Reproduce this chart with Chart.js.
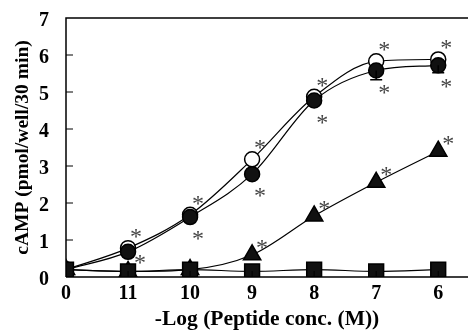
<!DOCTYPE html>
<html>
<head>
<meta charset="utf-8">
<script src="https://cdn.jsdelivr.net/npm/chart.js@4/dist/chart.umd.min.js"></script>
<style>
  html, body { margin: 0; padding: 0; background: #fff; }
  #wrap { width: 468px; height: 333px; }
</style>
</head>
<body>
<div id="wrap"><canvas id="chart" width="468" height="333"></canvas></div>
<script>
// tick labels along x (-log of concentration, 0 = no peptide)
const xLabels = ['0', '11', '10', '9', '8', '7', '6'];

// cAMP values (pmol/well/30 min)
const openCircle   = [0.2, 0.78, 1.68, 3.18, 4.87, 5.83, 5.88];
const filledCircle = [0.2, 0.68, 1.62, 2.78, 4.77, 5.58, 5.72];
const triangle     = [0.2, 0.15, 0.2, 0.6, 1.65, 2.56, 3.4];
const square       = [0.2, 0.15, 0.2, 0.15, 0.2, 0.15, 0.2];

// error bar (lower) for filled circles
const filledErr = [0, 0, 0, 0, 0, 0.25, 0.2];

// which points carry an asterisk
const starOpen   = [false, true, true, true, true, true, true];
const starFilled = [false, true, true, true, true, true, true];
const starTri    = [false, false, false, true, true, true, true];

const toPts = arr => arr.map((v, i) => ({ x: i, y: v }));

const font = 'Liberation Serif';

// draws frame, inward ticks, error bars and asterisks
const extras = {
  id: 'extras',
  afterDatasetsDraw(chart) {
    const { ctx, chartArea: a, scales: { x, y } } = chart;
    ctx.save();
    ctx.strokeStyle = '#000';
    ctx.lineWidth = 1.5;
    ctx.beginPath();
    ctx.moveTo(a.left, a.bottom); ctx.lineTo(chart.width, a.bottom);
    ctx.moveTo(a.left, a.bottom); ctx.lineTo(a.left, a.top);
    ctx.lineTo(chart.width, a.top);
    ctx.stroke();
    // inward ticks
    ctx.lineWidth = 1;
    ctx.beginPath();
    for (let v = 1; v <= 6; v++) {
      const py = y.getPixelForValue(v);
      ctx.moveTo(a.left, py); ctx.lineTo(a.left + 7, py);
    }
    for (let i = 1; i < xLabels.length; i++) {
      const px = x.getPixelForValue(i);
      ctx.moveTo(px, a.bottom); ctx.lineTo(px, a.bottom - 6);
    }
    ctx.stroke();

    // error bars
    ctx.lineWidth = 1.5;
    filledErr.forEach((e, i) => {
      if (!e) return;
      const px = x.getPixelForValue(i);
      const py0 = y.getPixelForValue(filledCircle[i]);
      const py1 = y.getPixelForValue(filledCircle[i] - e);
      ctx.beginPath();
      ctx.moveTo(px, py0); ctx.lineTo(px, py1);
      ctx.moveTo(px - 6, py1); ctx.lineTo(px + 6, py1);
      ctx.stroke();
    });

    // asterisks
    ctx.fillStyle = '#444';
    ctx.font = '24px ' + font;
    ctx.textAlign = 'center';
    ctx.textBaseline = 'alphabetic';
    const star = (arr, flags, dx, dy) => {
      arr.forEach((v, i) => {
        if (!flags[i]) return;
        const ox = Array.isArray(dx) ? dx[i] : dx;
        const oy = Array.isArray(dy) ? dy[i] : dy;
        // asterisk glyph sits high in the em box; shift baseline down
        ctx.fillText('*', x.getPixelForValue(i) + ox, y.getPixelForValue(v) + oy + 13);
      });
    };
    star(openCircle, starOpen, 8, -17);
    star(filledCircle, starFilled, [8, 12, 8, 8, 8, 8, 8], [16, 5, 16, 16, 16, 16, 16]);
    star(triangle, starTri, 10, -13);
    ctx.restore();
  }
};

const line = { borderColor: '#000', borderWidth: 1.2, cubicInterpolationMode: 'monotone', pointBorderColor: '#000', pointBorderWidth: 1.5 };

new Chart(document.getElementById('chart'), {
  type: 'line',
  data: {
    datasets: [
      Object.assign({ data: toPts(square), pointStyle: 'rect', pointRadius: 10.5, pointBackgroundColor: '#111' }, line),
      Object.assign({ data: toPts(triangle), pointStyle: 'triangle', pointRadius: 10, pointBackgroundColor: '#111' }, line),
      Object.assign({ data: toPts(filledCircle), pointStyle: 'circle', pointRadius: 7.5, pointBackgroundColor: '#111' }, line),
      Object.assign({ data: toPts(openCircle), pointStyle: 'circle', pointRadius: 7.5, pointBackgroundColor: '#fff' }, line)
    ]
  },
  options: {
    responsive: false,
    animation: false,
    layout: { autoPadding: false, padding: { top: 18, right: 0, left: 0, bottom: 0 } },
    plugins: { legend: { display: false }, tooltip: { enabled: false } },
    scales: {
      x: {
        type: 'linear', min: 0, max: 6.48,
        afterFit: s => { s.height = 56; s.paddingLeft = 0; s.paddingRight = 0; },
        afterBuildTicks: s => { s.ticks = xLabels.map((_, i) => ({ value: i })); },
        grid: { display: false },
        border: { display: false },
        ticks: {
          color: '#000', padding: -3, maxRotation: 0,
          font: { family: font, size: 20, weight: 'bold' },
          callback: v => xLabels[v]
        },
        title: {
          display: true, text: '-Log (Peptide conc. (M))', color: '#000', padding: { top: 0, bottom: 1 },
          font: { family: font, size: 21.5, weight: 'bold' }
        }
      },
      y: {
        min: 0, max: 7,
        afterFit: s => { s.width = 66; s.paddingTop = 0; s.paddingBottom = 0; },
        grid: { display: false },
        border: { display: false },
        ticks: {
          stepSize: 1, color: '#000', padding: 9, labelOffset: 3,
          font: { family: font, size: 20, weight: 'bold' }
        },
        title: {
          display: true, text: 'cAMP (pmol/well/30 min)', color: '#000', padding: { top: 11, bottom: 0 },
          font: { family: font, size: 19.5, weight: 'bold' }
        }
      }
    }
  },
  plugins: [extras]
});
</script>
</body>
</html>
